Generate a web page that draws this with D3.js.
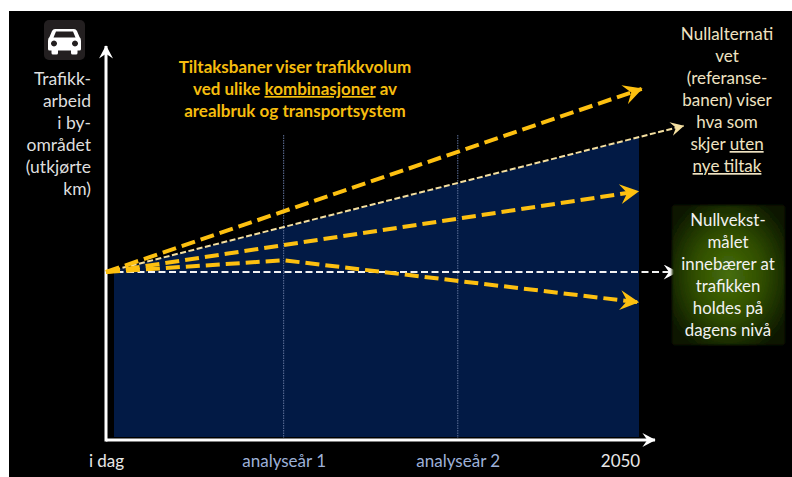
<!DOCTYPE html>
<html lang="no">
<head>
<meta charset="utf-8">
<style>
html,body{margin:0;padding:0;background:#fff}
svg{display:block}
text{font-family:Lato,"Open Sans",sans-serif}
</style>
<script src="https://cdn.jsdelivr.net/npm/d3@7/dist/d3.min.js"></script>
</head>
<body>
<svg id="chart" width="792" height="477"></svg>
<script>
// Time runs in steps: today, analysis year 1, analysis year 2, 2050
const tickTimes = [0, 1, 1.98, 3];
const tickLabels = ["i dag", "analyseår 1", "analyseår 2", "2050"];

// Traffic volume as an index, today = 100
const growthHighTimes = [0, 3.015];
const growthHighValues = [100, 209];
const referenceTimes = [0, 3.25];
const referenceValues = [100, 187];
const growthMidTimes = [0, 2.995];
const growthMidValues = [100, 148];
const turningTimes = [0, 1, 2.995];
const turningValues = [100, 107, 82];
const zeroGrowthTimes = [0, 3.215];
const zeroGrowthValues = [100, 100];

// Blue band under the reference path
const bandTimes = [0.045, 3];
const bandValues = [101, 180];

const yLabelLines = ["Trafikk-", "arbeid", "i by-", "området", "(utkjørte", "km)"];
const titleLines = [["Tiltaksbaner viser trafikkvolum"], ["ved ulike ", "_kombinasjoner", " av"], ["arealbruk og transportsystem"]];
const referenceNote = [["Nullalternati"], ["vet"], ["(referanse-"], ["banen) viser"], ["hva som"], ["skjer ", "_uten"], ["_nye tiltak"]];
const zeroNote = [["Nullvekst-"], ["målet"], ["innebærer at"], ["trafikken"], ["holdes på"], ["dagens nivå"]];

const svg = d3.select("#chart");
const defs = svg.append("defs");

const x = d3.scaleLinear().domain([0, 3]).range([106, 639]);
const y = d3.scaleLinear().domain([0, 100]).range([440, 272]);

// Slide background
svg.append("rect").attr("x", 9).attr("y", 11).attr("width", 783).attr("height", 466).attr("fill", "#000");

// Arrowheads with a swept-back notch
function arrowMarker(id, color, size) {
  defs.append("marker").attr("id", id)
    .attr("viewBox", "0 0 20 20").attr("refX", 19).attr("refY", 10)
    .attr("markerUnits", "userSpaceOnUse").attr("markerWidth", size).attr("markerHeight", size)
    .attr("orient", "auto")
    .append("path").attr("d", "M1,0 L20,10 L1,20 L8,10 Z").attr("fill", color);
}
arrowMarker("arrow-yellow", "#fdc010", 20);
arrowMarker("arrow-cream", "#f4dfa0", 14);
arrowMarker("arrow-white", "#fff", 15);
arrowMarker("arrow-axis", "#fff", 14);

const glow = defs.append("radialGradient").attr("id", "glow").attr("r", 0.62);
glow.append("stop").attr("offset", "0%").attr("stop-color", "#466e08");
glow.append("stop").attr("offset", "50%").attr("stop-color", "#2f4c05");
glow.append("stop").attr("offset", "100%").attr("stop-color", "#0a1402");
defs.append("filter").attr("id", "soft").append("feGaussianBlur").attr("stdDeviation", 1);

// Band under the reference path
const band = d3.area().x(d => x(d.t)).y0(437).y1(d => y(d.v));
svg.append("path")
  .datum(bandTimes.map((t, i) => ({t, v: bandValues[i]})))
  .attr("d", band).attr("fill", "#021a45");

// Analysis year guides
svg.selectAll(".guide").data(tickTimes.slice(1, 3)).join("line")
  .attr("class", "guide")
  .attr("x1", d => x(d)).attr("x2", d => x(d))
  .attr("y1", 135).attr("y2", 438)
  .attr("stroke", "#5f7199").attr("stroke-width", 1).attr("stroke-dasharray", "1.5 1");

// Axes
const xAxis = d3.axisBottom(x).tickValues(tickTimes).tickSize(0).tickPadding(15)
  .tickFormat((d, i) => tickLabels[i]);
const xAxisG = svg.append("g").attr("transform", "translate(0,440)").call(xAxis);
xAxisG.selectAll("text").attr("font-size", 17).attr("font-family", "Lato")
  .attr("fill", (d, i) => (i === 1 || i === 2) ? "#9db1d8" : "#e8e8e8");
xAxisG.selectAll(".tick").filter((d, i) => i === 3).select("text").attr("dx", -19);
xAxisG.select(".domain").remove();

const line2 = (a, b, c, d) => svg.append("line").attr("x1", a).attr("y1", b).attr("x2", c).attr("y2", d)
  .attr("stroke", "#fff").attr("stroke-width", 3).attr("marker-end", "url(#arrow-axis)");
line2(x(0), y(0), 655, y(0));
line2(x(0), y(0) + 1.5, x(0), 46);

// Paths
const path = d3.line().x(d => x(d.t)).y(d => y(d.v));
const series = [
  {t: zeroGrowthTimes, v: zeroGrowthValues, c: "#f2f2f2", w: 2, dash: "7 3.5", m: "arrow-white"},
  {t: referenceTimes, v: referenceValues, c: "#f4dfa0", w: 2, dash: "6 2.5", m: "arrow-cream"},
  {t: growthHighTimes, v: growthHighValues, c: "#fdc010", w: 4, dash: "14 6", m: "arrow-yellow"},
  {t: growthMidTimes, v: growthMidValues, c: "#fdc010", w: 4, dash: "14 6", m: "arrow-yellow"},
  {t: turningTimes, v: turningValues, c: "#fdc010", w: 4, dash: "14 6", m: "arrow-yellow"}
];
svg.selectAll(".path").data(series).join("path")
  .attr("class", "path")
  .attr("d", s => path(s.t.map((t, i) => ({t, v: s.v[i]}))))
  .attr("fill", "none").attr("stroke", s => s.c).attr("stroke-width", s => s.w)
  .attr("stroke-dasharray", s => s.dash).attr("marker-end", s => `url(#${s.m})`);

// Multi-line text blocks; a leading underscore underlines that run
function textBlock(lines, px, firstY, step, anchor, size, color, weight) {
  const t = svg.append("text").attr("text-anchor", anchor).attr("font-size", size)
    .attr("font-weight", weight).attr("fill", color);
  lines.forEach((runs, i) => {
    const row = t.append("tspan").attr("x", px).attr("y", firstY + i * step);
    runs.forEach(r => {
      const u = r.startsWith("_");
      row.append("tspan").attr("xml:space", "preserve").style("white-space", "pre")
        .attr("text-decoration", u ? "underline" : null).text(u ? r.slice(1) : r);
    });
  });
}
textBlock(yLabelLines.map(l => [l]), 91, 85, 22, "end", 17.5, "#dedede", 400);
textBlock(titleLines, 295, 73, 22, "middle", 17, "#f6bd0e", 700);
textBlock(referenceNote, 727, 40, 22, "middle", 17, "#efe3c2", 400);

// Zero-growth note on a glowing green panel
svg.append("rect").attr("x", 672).attr("y", 205).attr("width", 113).attr("height", 140)
  .attr("rx", 3).attr("fill", "url(#glow)").attr("filter", "url(#soft)");
textBlock(zeroNote, 728, 226, 22, "middle", 16.8, "#f2f2f2", 400);

// Car pictogram
const car = svg.append("g").attr("transform", "translate(44,20)");
car.append("rect").attr("width", 41).attr("height", 40).attr("rx", 5).attr("fill", "#231f20");
car.append("path").attr("fill", "#fff").attr("fill-rule", "evenodd").attr("d",
  "M11,9 H30 Q32,9 33,11 L35.5,17 Q37,18 37,21 V29 Q37,30.5 35.5,30.5 H33.5 V33 Q33.5,34.5 32,34.5 H28.5 Q27,34.5 27,33 V30.5 H14 V33 Q14,34.5 12.5,34.5 H9 Q7.5,34.5 7.5,33 V30.5 H5.5 Q4,30.5 4,29 V21 Q4,18 5.5,17 L8,11 Q9,9 11,9 Z " +
  "M12,11.5 L9.5,17.5 H31.5 L29,11.5 Z " +
  "M10,20.5 a3,3 0 1,0 0.01,0 Z M31,20.5 a3,3 0 1,0 0.01,0 Z");
</script>
</body>
</html>
